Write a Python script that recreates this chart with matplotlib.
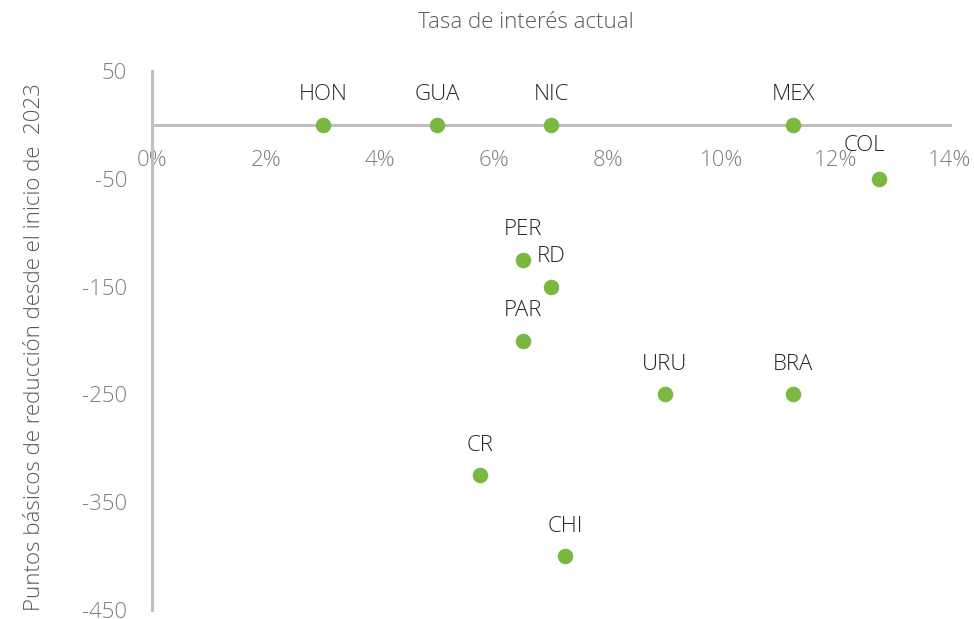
import matplotlib.pyplot as plt
from matplotlib.ticker import FuncFormatter

plt.rcParams['font.family'] = ['Open Sans', 'DejaVu Sans']
plt.rcParams['axes.unicode_minus'] = False

# datos
paises = ['HON', 'GUA', 'NIC', 'MEX', 'COL', 'PER', 'RD', 'PAR', 'URU', 'BRA', 'CR', 'CHI']
tasa = [3.0, 5.0, 7.0, 11.25, 12.75, 6.5, 7.0, 6.5, 9.0, 11.25, 5.75, 7.25]
reduccion = [0, 0, 0, 0, -50, -125, -150, -200, -250, -250, -325, -400]

fig = plt.figure(figsize=(9.74, 6.19), dpi=100)
ax = fig.add_axes([152 / 974, 1 - 610 / 619, (950 - 152) / 974, (610 - 71) / 619])

ax.scatter(tasa, reduccion, s=125, color='#7ab840', zorder=3, linewidths=0)

# etiquetas de cada punto (COL va un poco a la izquierda)
for p, x, y in zip(paises, tasa, reduccion):
    dx = -14 if p == 'COL' else 0
    dy = 33 if p == 'COL' else 30
    ax.annotate(p, (x, y), xytext=(dx, dy), textcoords='offset pixels',
                ha='center', va='center', fontsize=16, color='#262626',
                fontweight='light')

ax.set_xlim(0, 14)
ax.set_ylim(-450, 50)
ax.set_xticks(range(0, 15, 2))
ax.set_yticks(range(50, -451, -100))
ax.xaxis.set_major_formatter(FuncFormatter(lambda v, _: f'{v:.0f}%'))

for s in ['top', 'right']:
    ax.spines[s].set_visible(False)
ax.spines['bottom'].set_position(('data', 0))
for s in ['left', 'bottom']:
    ax.spines[s].set_color('#bfbfbf')
    ax.spines[s].set_linewidth(2.2)

ax.tick_params(axis='x', length=0, pad=18, labelsize=16, labelcolor='#7f7f7f')
ax.tick_params(axis='y', length=0, pad=18, labelsize=16, labelcolor='#7f7f7f')
for lbl in ax.get_xticklabels() + ax.get_yticklabels():
    lbl.set_fontweight('light')

fig.text(526 / 974, 1 - 22 / 619, 'Tasa de interés actual', ha='center', va='center',
         fontsize=16, color='#595959', fontweight='light')
fig.text(35 / 974, 1 - 347 / 619, 'Puntos básicos de reducción desde el inicio de  2023',
         ha='center', va='center', rotation=90, fontsize=16, color='#595959',
         fontweight='light')

fig.savefig('out.png', dpi=100)
